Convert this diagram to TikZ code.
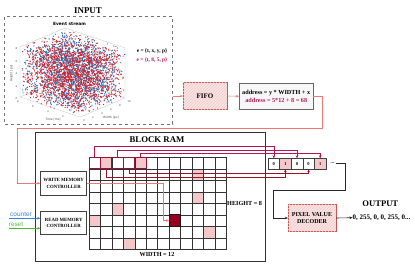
\documentclass[tikz,border=0pt]{standalone}
\usepackage{fontspec}
\setmainfont{Liberation Serif}
\newfontfamily\plotfont{DejaVu Sans}
\newfontfamily\handfont{Liberation Sans}
\usetikzlibrary{arrows.meta,patterns}
\definecolor{evRed}{RGB}{214,28,38}
\definecolor{evBlue}{RGB}{40,120,190}
\definecolor{eqMagenta}{RGB}{180,20,80}
\definecolor{boxRed}{RGB}{200,80,80}
\definecolor{boxPink}{RGB}{250,228,226}
\definecolor{linkRed}{RGB}{238,120,120}
\definecolor{cellPink}{RGB}{244,200,200}
\definecolor{cellDark}{RGB}{150,0,30}
\definecolor{rowMaroon}{RGB}{150,20,50}
\definecolor{readRed}{RGB}{150,20,35}
\definecolor{counterBlue}{RGB}{60,130,225}
\definecolor{resetGreen}{RGB}{80,185,60}
\newcommand{\SetSize}[1]{\fontsize{#1}{#1}\selectfont}
\tikzset{
  ramcell/.style={draw=black!80,line width=0.45pt,minimum width=11.45pt,minimum height=11.5pt,inner sep=0pt,outer sep=0pt},
  bufcell/.style={draw=black!75,line width=0.5pt,minimum width=11.6pt,minimum height=11pt,inner sep=0pt,outer sep=0pt,
                  font=\bfseries\SetSize{4.5}},
  ctrlbox/.style={draw=black!75,line width=0.7pt,fill=white,minimum width=46pt,minimum height=23.3pt,inner sep=0pt,
                  align=center,font=\bfseries\SetSize{4.8}},
  hatchbox/.style={draw=boxRed,line width=0.7pt,fill=boxPink,postaction={pattern=north east lines,pattern color=boxRed!30},
                   inner sep=0pt,outer sep=0pt,align=center},
  link/.style={-{Stealth[length=3pt,width=2.6pt]},line width=0.6pt},
  axisline/.style={black!25,line width=0.3pt},
  tick/.style={font=\plotfont\SetSize{2.6},text=black!70,inner sep=0pt},
}

\begin{document}
\begin{tikzpicture}[x=1pt,y=-1pt]
\useasboundingbox (0,0) rectangle (415,275);

\node[font=\bfseries\SetSize{8.9}] (inTitle) at (88,11) {INPUT};
\node[draw=black!55,dashed,line width=0.5pt,minimum width=168pt,minimum height=107.3pt,inner sep=0pt,outer sep=0pt]
  (input) at (88.7,70.35) {};
\node[font=\plotfont\bfseries\SetSize{4.35}] (plotTitle) at (69.5,23.5) {Event stream};
\draw[axisline] (80,117) -- (20,97) -- (20,47) -- (65,28) -- (125,48) -- (125,98) -- cycle;
\draw[axisline] (20,97) -- (65,78) -- (125,98) (65,78) -- (65,28);
\pgfmathsetseed{11}
\foreach \i in {1,...,3600}{
  \pgfmathsetmacro{\u}{rnd}
  \pgfmathsetmacro{\v}{rnd}
  \pgfmathsetmacro{\w}{rnd}
  \pgfmathsetmacro{\k}{rnd}
  \ifdim\k pt<0.6pt \def\dotcol{evRed}\else\def\dotcol{evBlue}\fi
  \fill[\dotcol] ({80-60*\u+45*\v},{117-20*\u-19*\v-50*\w}) circle (0.65);
}
\foreach \t [count=\i] in {0,2,4,6,8}
  \node[tick] (hTick\i) at (16.5,{98.7-12.5*(\i-1)}) {\t};
\foreach \t [count=\i] in {2,4,6,8}
  \node[tick] (tTick\i) at ({78-15*\i},{122-5*\i}) {\t};
\foreach \t [count=\i from 0] in {0,2,4,6,8,10}
  \node[tick] (wTick\i) at ({84+9*\i},{121-3.8*\i}) {\t};
\node[tick,font=\plotfont\SetSize{3}] (tLabel) at (53,119.5) {Time [ms]};
\node[tick,font=\plotfont\SetSize{3}] (wLabel) at (111,117.5) {Width [px]};
\node[tick,font=\plotfont\SetSize{3},rotate=90] (hLabel) at (11.5,73.5) {Height [px]};

\node[font=\bfseries\SetSize{5.4}] (eqGen) at (152,51.7) {e = \{t, x, y, p\}};
\node[font=\bfseries\SetSize{5.4},text=eqMagenta] (eqVal) at (152,60.7) {e = \{t, 8, 5, p\}};

\node[hatchbox,minimum width=44pt,minimum height=27pt,font=\bfseries\SetSize{7}] (fifo) at (205,96) {FIFO};
\node[draw=black!60,line width=0.7pt,fill=black!3,
      minimum width=74.3pt,minimum height=26pt,inner sep=0pt,outer sep=0pt,align=center,font=\bfseries\SetSize{6.2}]
  (addr) at (276.2,96.3) {address = y * WIDTH + x\\[1.2pt]{\color{eqMagenta}address = 5*12 + 8 = 68}};

\node[draw=black!80,line width=0.8pt,minimum width=230pt,minimum height=128.7pt,inner sep=0pt,outer sep=0pt]
  (ram) at (150,196.65) {};
\node[font=\bfseries\SetSize{8.75}] (ramTitle) at (157,140) {BLOCK RAM};
\node[ctrlbox] (wmc) at (63.7,183.3) {WRITE MEMORY\\[1.5pt]CONTROLLER};
\node[ctrlbox] (rmc) at (63.7,222.7) {READ MEMORY\\[1.5pt]CONTROLLER};

\foreach \r in {0,...,7}{
  \foreach \c in {0,...,11}{
    \node[ramcell] (g-\r-\c) at ({94.725+11.45*\c},{163.05+11.5*\r}) {};
  }
}
\foreach \r/\c in {0/1,0/4,1/9,3/9,4/2,5/0,6/10,7/3}
  \path[fill=cellPink,draw=black!80,line width=0.45pt] (g-\r-\c.south west) rectangle (g-\r-\c.north east);
\path[fill=cellDark,draw=black!90,line width=0.6pt] (g-5-7.south west) rectangle (g-5-7.north east);
\foreach \c in {0,...,4}
  \draw[rowMaroon,line width=0.9pt] (g-0-\c.south west) rectangle (g-0-\c.north east);
\node[font=\bfseries\SetSize{6.2}] (widthLbl) at (157,254.5) {WIDTH = 12};
\node[font=\bfseries\SetSize{6.2},anchor=west,inner sep=0pt] (heightLbl) at (227,203.3) {HEIGHT = 8};

\foreach \v [count=\i from 0] in {0,1,0,0,1}{
  \ifnum\v=1 \def\bufFill{cellPink}\else\def\bufFill{white}\fi
  \node[bufcell,fill=\bufFill] (b\i) at ({273.8+11.6*\i},163.8) {\v};
}
\node[font=\bfseries\SetSize{5},inner sep=1pt] (dots) at (332.5,163.5) {...};

\foreach \c/\h in {0/10.6,2/7.3,4/4}
  \draw[link,eqMagenta] (g-0-\c.north) -- ++(0,-\h) -| (b\c.north);
\foreach \c/\h in {3/4.7,1/8.2}
  \draw[link,readRed] (g-0-\c.south) -- ++(0,\h) -| (b\c.south);

\draw[link,linkRed] (input.east |- fifo.west) -- (fifo.west);
\draw[link,linkRed] (fifo.east) -- (addr.west);
\draw[link,linkRed] (addr.east) -- ++(9.4,0) |- (17,128.3) |- (wmc.west);
\draw[link,linkRed] (wmc.east) -- ++(76,0) |- (g-5-7.west);

\node[hatchbox,minimum width=48.3pt,minimum height=27.4pt,font=\bfseries\SetSize{6}] (dec) at (312,218)
  {PIXEL VALUE\\[1.5pt]DECODER};
\draw[link,black!85] (dots.east) -- ++(10,0) |- (273,190) |- (dec.west);
\node[font=\bfseries\SetSize{8.6}] (outTitle) at (380.3,203.7) {OUTPUT};
\node[font=\bfseries\SetSize{7},anchor=west,inner sep=0pt] (out) at (352.5,217.7) {0, 255, 0, 0, 255, 0...};
\draw[link,black!85] (dec.east) -- (out.west);

\node[font=\handfont\SetSize{6.5},text=counterBlue,inner sep=0pt] (ctr) at (21,214.3) {counter};
\node[font=\handfont\SetSize{6.3},text=resetGreen,inner sep=0pt] (rst) at (16,224) {reset};
\coordinate (ctrIn) at (9,218.3);
\coordinate (rstIn) at (9,228.3);
\draw[link,counterBlue] (ctrIn) -- (ctrIn -| rmc.west);
\draw[link,resetGreen] (rstIn) -- (rstIn -| rmc.west);
\end{tikzpicture}
\end{document}
